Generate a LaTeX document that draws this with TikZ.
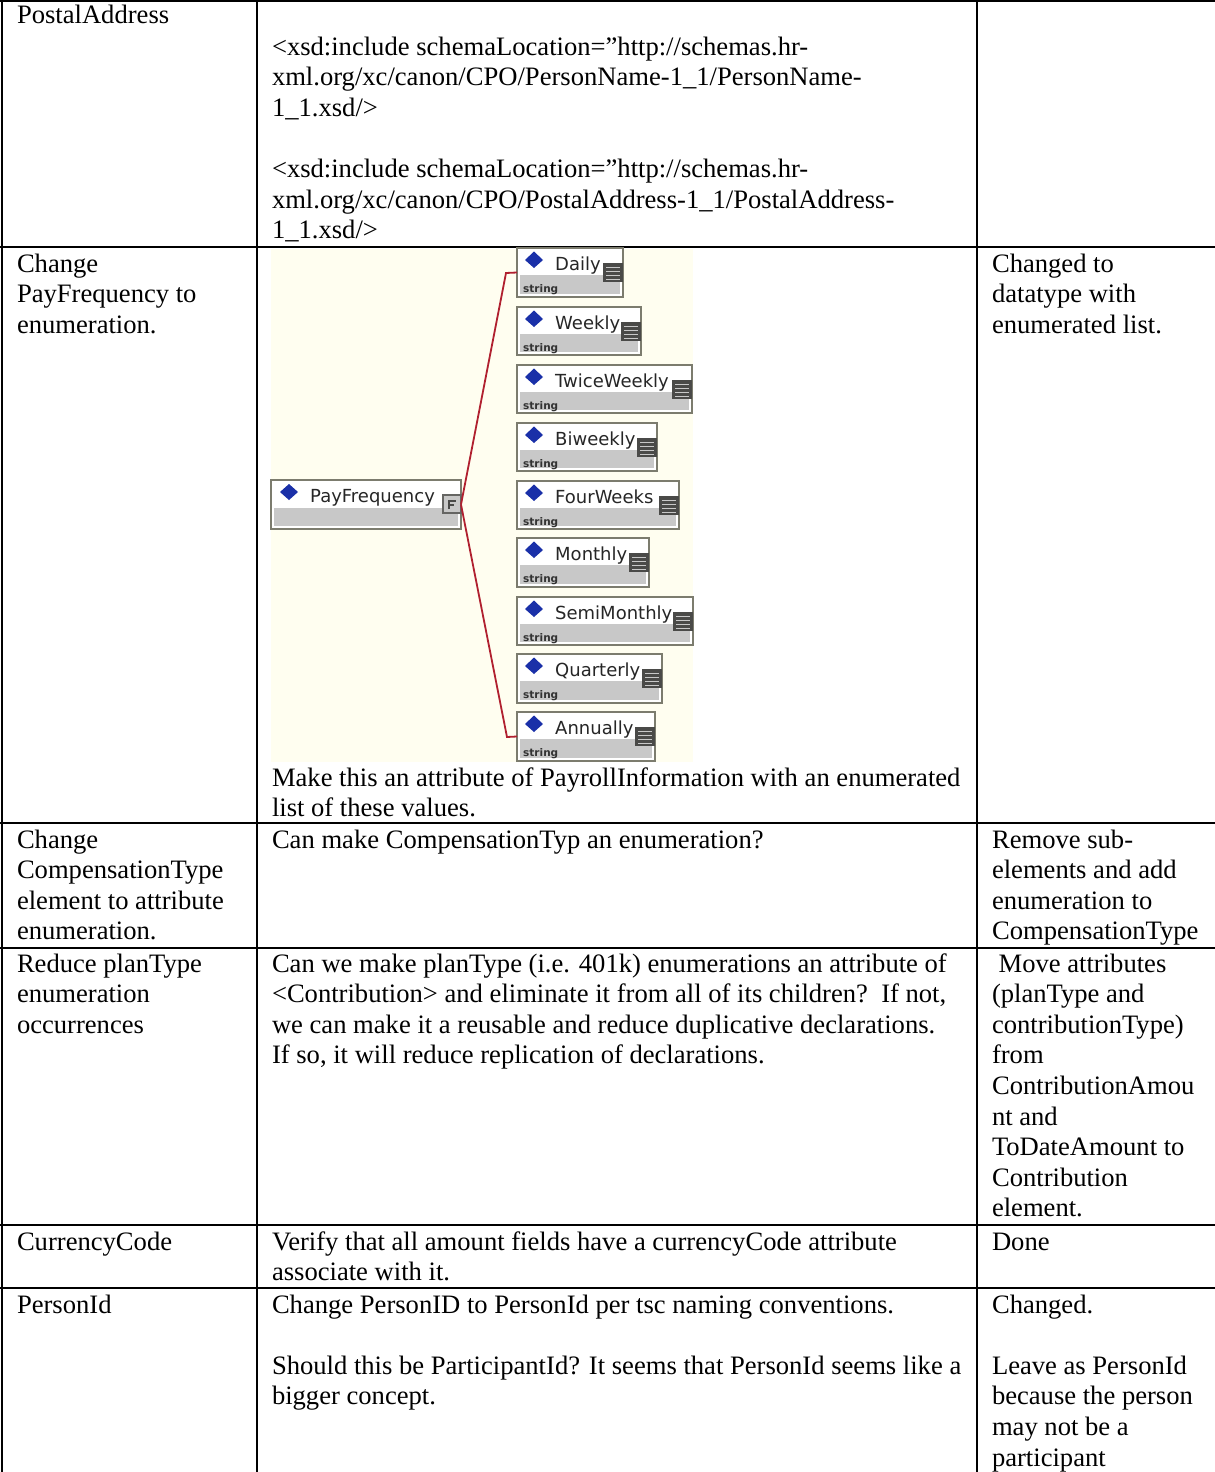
\documentclass[tikz,border=0pt]{standalone}
\usepackage{fontspec}
\setmainfont{Liberation Serif}
\newfontfamily\boxfont{DejaVu Sans}
\definecolor{imgbg}{HTML}{FFFEF0}
\definecolor{boxline}{HTML}{7C7C6E}
\definecolor{boxgrey}{HTML}{C8C8C8}
\definecolor{dia}{HTML}{1A30A8}
\definecolor{iconc}{HTML}{4A4A48}
\definecolor{redl}{HTML}{B0202F}
\tikzset{
  rule/.style={line width=2.6pt,black},
  cell/.style={anchor=north west,inner sep=0pt,outer sep=0pt,align=left,font=\fontsize{26.6}{30.6}\selectfont},
  ebox/.style={draw=boxline,line width=2.2pt,fill=white,inner sep=0pt,outer sep=0pt,rectangle},
  elabel/.style={anchor=base west,inner sep=0pt,font=\boxfont\fontsize{18}{20}\selectfont,text=black!85},
  tlabel/.style={anchor=base west,inner sep=0pt,font=\boxfont\bfseries\fontsize{10.5}{12}\selectfont,text=black!80},
  conn/.style={draw=redl,line width=1.8pt},
}
\newcommand{\celltext}[3]{\node[cell] at (#1,#2-20) {\rule{0pt}{20pt}#3};}
% name, text, right, top, bottom
\newcommand{\enumbox}[5]{%
  \pgfmathsetmacro{\bw}{#3-517}\pgfmathsetmacro{\bh}{#5-#4}%
  \node[ebox,anchor=north west,minimum width=\bw pt,minimum height=\bh pt] (#1) at (517,#4) {};
  \fill[boxgrey] (520,#4+27) rectangle (#3-3,#5-3);
  \fill[dia] (525,#4+12) -- (534,#4+3.5) -- (543,#4+12) -- (534,#4+20) -- cycle;
  \node[elabel] at (555,#4+22) {#2};
  \node[tlabel] at (523,#4+44) {string};
  \fill[iconc] (#3-20,#4+15) rectangle (#3,#4+34);
  \foreach \ly in {19,23,27,31} \draw[boxgrey,line width=1pt] (#3-17,#4+\ly) -- (#3-3,#4+\ly);
}
\begin{document}
\begin{tikzpicture}[x=1pt,y=-1pt]
\useasboundingbox (0,0) rectangle (1215,1472);
\fill[white] (0,0) rectangle (1215,1472);
% table rules
\draw[rule] (0,1) -- (1215,1);
\foreach \yy in {247,823,948,1225,1288} \draw[rule] (0,\yy) -- (1215,\yy);
\draw[rule] (2,0) -- (2,1472);
\draw[rule] (257,0) -- (257,1472);
\draw[rule] (977,0) -- (977,1472);
% image
\fill[imgbg] (271,249) rectangle (693,762);
\enumbox{daily}{Daily}{623}{248}{297}
\enumbox{weekly}{Weekly}{641}{307}{355}
\enumbox{twice}{TwiceWeekly}{692}{365}{413}
\enumbox{biweekly}{Biweekly}{657}{423}{471}
\enumbox{four}{FourWeeks}{679}{481}{529}
\enumbox{monthly}{Monthly}{649}{538}{587}
\enumbox{semi}{SemiMonthly}{693}{597}{645}
\enumbox{quarterly}{Quarterly}{662}{654}{703}
\enumbox{annually}{Annually}{655}{712}{761}
% root element
\node[ebox,anchor=north west,minimum width=190pt,minimum height=49pt] (pf) at (271,480) {};
\fill[boxgrey] (274,508) rectangle (458,526);
\fill[dia] (280,492) -- (289,484) -- (298,492) -- (289,500) -- cycle;
\node[elabel] at (310,502) {PayFrequency};
\draw[iconc!85,line width=2pt,fill=boxgrey] (443,495) rectangle (461,513);
\draw[iconc,line width=1.2pt] (449,509) -- (449,501) -- (456,501) (449,505) -- (454,505);
% connectors
\coordinate (bendtop) at (506,273);
\coordinate (bendbot) at (507,737);
\draw[conn] (pf.east) -- (bendtop) -- (daily.west);
\draw[conn] (pf.east) -- (bendbot) -- (annually.west);
% texts
\celltext{17}{24}{PostalAddress}
\celltext{272}{55}{<xsd:include schemaLocation=”http://schemas.hr-\\xml.org/xc/canon/CPO/PersonName-1\_1/PersonName-\\1\_1.xsd/>\\~\\<xsd:include schemaLocation=”http://schemas.hr-\\xml.org/xc/canon/CPO/PostalAddress-1\_1/PostalAddress-\\1\_1.xsd/>}
\celltext{17}{272}{Change\\PayFrequency to\\enumeration.}
\celltext{272}{786}{Make this an attribute of PayrollInformation with an enumerated\\list of these values.}
\celltext{992}{272}{Changed to\\datatype with\\enumerated list.}
\celltext{17}{848}{Change\\CompensationType\\element to attribute\\enumeration.}
\celltext{272}{848}{Can make CompensationTyp an enumeration?}
\celltext{992}{848}{Remove sub-\\elements and add\\enumeration to\\CompensationType}
\celltext{17}{972}{Reduce planType\\enumeration\\occurrences}
\celltext{272}{972}{Can we make planType (i.e. 401k) enumerations an attribute of\\<Contribution> and eliminate it from all of its children?\ \ If not,\\we can make it a reusable and reduce duplicative declarations.\ \\If so, it will reduce replication of declarations.}
\celltext{992}{972}{\ Move attributes\\(planType and\\contributionType)\\from\\ContributionAmou\\nt and\\ToDateAmount to\\Contribution\\element.}
\celltext{17}{1250}{CurrencyCode}
\celltext{272}{1250}{Verify that all amount fields have a currencyCode attribute\\associate with it.}
\celltext{992}{1250}{Done}
\celltext{17}{1313}{PersonId}
\celltext{272}{1313}{Change PersonID to PersonId per tsc naming conventions.\\~\\Should this be ParticipantId? It seems that PersonId seems like a\\bigger concept.}
\celltext{992}{1313}{Changed.\\~\\Leave as PersonId\\because the person\\may not be a\\participant}
\end{tikzpicture}
\end{document}
